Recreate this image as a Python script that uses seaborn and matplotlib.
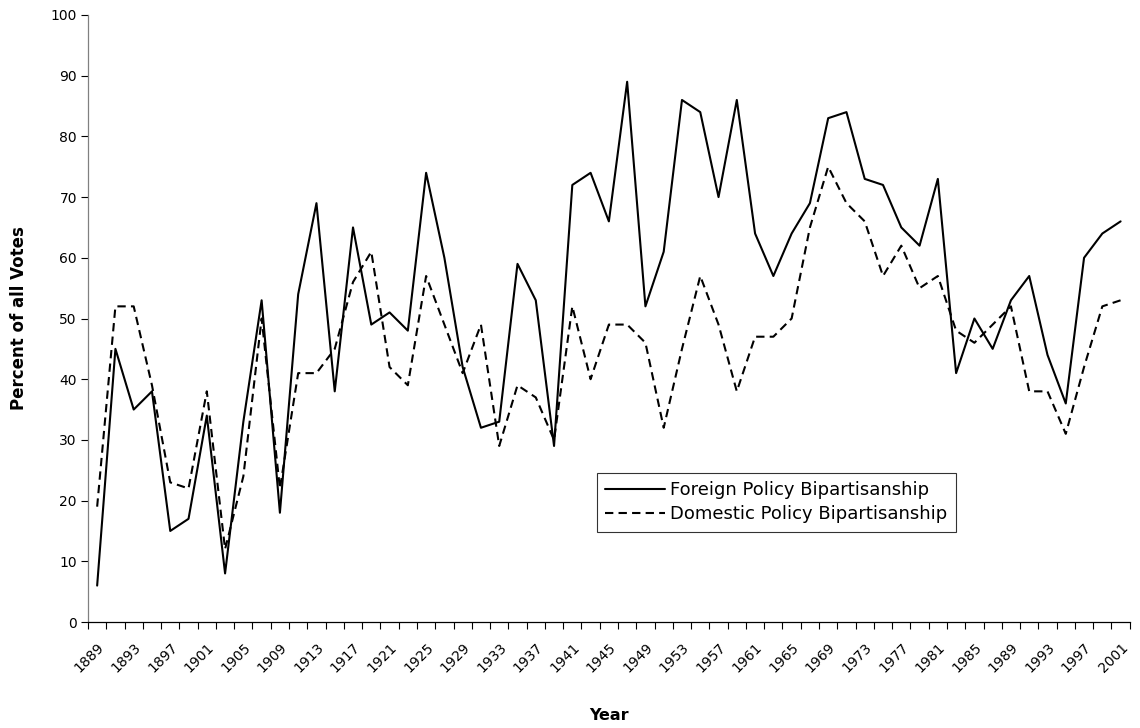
import numpy as np
import pandas as pd
import matplotlib
matplotlib.use('Agg')
import matplotlib.pyplot as plt
import seaborn as sns

# congress start years, every two years
years = list(range(1889, 2002, 2))

foreign = [6, 45, 35, 38, 15, 17, 34, 8, 33, 53, 18, 54, 69, 38, 65,
           49, 51, 48, 74, 60, 42, 32, 33, 59, 53, 29, 72, 74, 66, 89,
           52, 61, 86, 84, 70, 86, 64, 57, 64, 69, 83, 84, 73, 72, 65,
           62, 73, 41, 50, 45, 53, 57, 44, 36, 60, 64, 66]

domestic = [19, 52, 52, 39, 23, 22, 38, 12, 24, 50, 22, 41, 41, 45, 56,
            61, 42, 39, 57, 49, 41, 49, 29, 39, 37, 30, 52, 40, 49, 49,
            46, 32, 45, 57, 49, 38, 47, 47, 50, 65, 75, 69, 66, 57, 62,
            55, 57, 48, 46, 49, 52, 38, 38, 31, 42, 52, 53]

series_names = ['Foreign Policy Bipartisanship', 'Domestic Policy Bipartisanship']

sns.set_style('white')
plt.rcParams['font.family'] = ['DejaVu Sans']
plt.rcParams['text.color'] = 'black'
plt.rcParams['axes.labelcolor'] = 'black'
plt.rcParams['xtick.color'] = 'black'
plt.rcParams['ytick.color'] = 'black'

df = pd.DataFrame({'pos': np.arange(len(years)), 'Year': years,
                   'foreign': foreign, 'domestic': domestic})

fig = plt.figure(figsize=(11.4, 7.28), dpi=100)
ax = fig.add_axes([0.0772, 0.1456, 0.9138, 0.8338])

sns.lineplot(data=df, x='pos', y='foreign', ax=ax, color='black',
             linewidth=1.5, label=series_names[0])
sns.lineplot(data=df, x='pos', y='domestic', ax=ax, color='black',
             linewidth=1.5, label=series_names[1])
ax.lines[1].set_dashes((4, 2.5))

ax.set_xlim(-0.5, len(years) - 0.5)
ax.set_ylim(0, 100)
ax.set_yticks(range(0, 101, 10))
ax.tick_params(axis='y', labelsize=10, length=5, width=0.8, direction='out',
               left=True, pad=3)

# category labels every other congress, tick marks between categories
ax.set_xticks(np.arange(0, len(years), 2))
ax.set_xticklabels([str(y) for y in years[::2]], rotation=45, ha='right',
                   rotation_mode='anchor', fontsize=10)
ax.set_xticks(np.arange(-0.5, len(years), 1), minor=True)
ax.tick_params(axis='x', which='major', length=0, pad=13)
ax.tick_params(axis='x', which='minor', length=5, width=0.8,
               direction='out', bottom=True)

for s in ['top', 'right']:
    ax.spines[s].set_visible(False)
ax.spines['left'].set_color('#808080')
ax.spines['left'].set_linewidth(0.9)
ax.spines['bottom'].set_color('black')
ax.spines['bottom'].set_linewidth(0.9)

ax.set_xlabel('Year', fontsize=11.5, fontweight='bold', labelpad=24)
ax.set_ylabel('Percent of all Votes', fontsize=12, fontweight='bold', labelpad=16)

leg = ax.legend(loc='upper left', bbox_to_anchor=(597 / 1140, 1 - 473 / 728),
                bbox_transform=fig.transFigure, borderaxespad=0,
                fancybox=False, frameon=True, edgecolor='black',
                fontsize=13, handlelength=3.3, handletextpad=0.3,
                borderpad=0.45, labelspacing=0.35)
leg.get_frame().set_linewidth(0.8)
leg.legend_handles[1].set_dashes((4, 2.5))

fig.savefig('out.png', dpi=100)
